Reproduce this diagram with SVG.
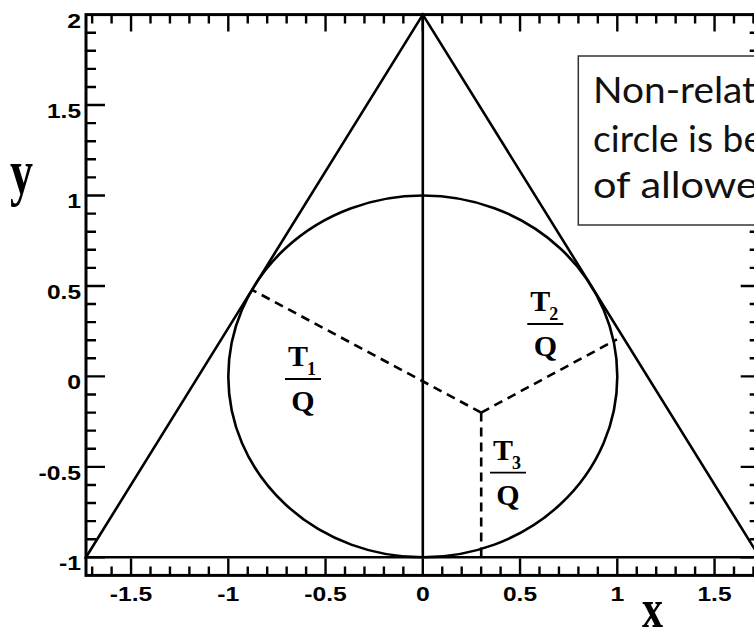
<svg xmlns="http://www.w3.org/2000/svg" width="754" height="630" viewBox="0 0 754 630">
<style>
.ln{fill:none;stroke:#000;stroke-width:2.6}
.frame{fill:none;stroke:#000;stroke-width:3}
.tk{fill:none;stroke:#000;stroke-width:2.4}
.dash{fill:none;stroke:#000;stroke-width:2.6;stroke-dasharray:9 6}
.num{font-family:"Liberation Sans",Arial,sans-serif;font-weight:bold;font-size:21px;fill:#000}
.ttl{font-family:"Liberation Serif","Times New Roman",serif;font-weight:bold;fill:#000}
.fr{font-family:"Liberation Serif","Times New Roman",serif;font-weight:bold;font-size:30px;fill:#000}
.sub{font-size:18px}
.bar{stroke:#000;stroke-width:1.8}
.note{font-family:Lato,"Open Sans",sans-serif;font-size:37px;fill:#111}
</style>
<rect width="754" height="630" fill="#fff"/>
<g id="frame">
<rect class="frame" x="86" y="14.6" width="673.7" height="560.8"/>
</g>
<g id="ticks" class="tk">
<path d="M86 32.69h10M86 50.78h10M86 68.87h10M86 86.96h10M86 105.05h19M86 123.14h10M86 141.23h10M86 159.32h10M86 177.41h10M86 195.5h19M86 213.59h10M86 231.68h10M86 249.77h10M86 267.86h10M86 285.95h19M86 304.04h10M86 322.13h10M86 340.22h10M86 358.31h10M86 376.4h19M86 394.49h10M86 412.58h10M86 430.67h10M86 448.76h10M86 466.85h19M86 484.94h10M86 503.03h10M86 521.12h10M86 539.21h10M86 557.3h19"/>
<path d="M759.7 32.69h-10M759.7 50.78h-10M759.7 68.87h-10M759.7 86.96h-10M759.7 105.05h-19M759.7 123.14h-10M759.7 141.23h-10M759.7 159.32h-10M759.7 177.41h-10M759.7 195.5h-19M759.7 213.59h-10M759.7 231.68h-10M759.7 249.77h-10M759.7 267.86h-10M759.7 285.95h-19M759.7 304.04h-10M759.7 322.13h-10M759.7 340.22h-10M759.7 358.31h-10M759.7 376.4h-19M759.7 394.49h-10M759.7 412.58h-10M759.7 430.67h-10M759.7 448.76h-10M759.7 466.85h-19M759.7 484.94h-10M759.7 503.03h-10M759.7 521.12h-10M759.7 539.21h-10M759.7 557.3h-19"/>
<path d="M92.15 14.6v9M111.6 14.6v9M131.05 14.6v17M150.5 14.6v9M169.95 14.6v9M189.4 14.6v9M208.85 14.6v9M228.3 14.6v17M247.75 14.6v9M267.2 14.6v9M286.65 14.6v9M306.1 14.6v9M325.55 14.6v17M345 14.6v9M364.45 14.6v9M383.9 14.6v9M403.35 14.6v9M422.8 14.6v17M442.25 14.6v9M461.7 14.6v9M481.15 14.6v9M500.6 14.6v9M520.05 14.6v17M539.5 14.6v9M558.95 14.6v9M578.4 14.6v9M597.85 14.6v9M617.3 14.6v17M636.75 14.6v9M656.2 14.6v9M675.65 14.6v9M695.1 14.6v9M714.55 14.6v17M734 14.6v9M753.45 14.6v9"/>
<path d="M92.15 575.4v-9M111.6 575.4v-9M131.05 575.4v-17M150.5 575.4v-9M169.95 575.4v-9M189.4 575.4v-9M208.85 575.4v-9M228.3 575.4v-17M247.75 575.4v-9M267.2 575.4v-9M286.65 575.4v-9M306.1 575.4v-9M325.55 575.4v-17M345 575.4v-9M364.45 575.4v-9M383.9 575.4v-9M403.35 575.4v-9M422.8 575.4v-17M442.25 575.4v-9M461.7 575.4v-9M481.15 575.4v-9M500.6 575.4v-9M520.05 575.4v-17M539.5 575.4v-9M558.95 575.4v-9M578.4 575.4v-9M597.85 575.4v-9M617.3 575.4v-17M636.75 575.4v-9M656.2 575.4v-9M675.65 575.4v-9M695.1 575.4v-9M714.55 575.4v-17M734 575.4v-9M753.45 575.4v-9"/>
</g>
<g id="y-labels" class="num" text-anchor="end">
<text x="81" y="27.5" textLength="13.8" lengthAdjust="spacingAndGlyphs">2</text>
<text x="81" y="118" textLength="34" lengthAdjust="spacingAndGlyphs">1.5</text>
<text x="81" y="208" textLength="13.8" lengthAdjust="spacingAndGlyphs">1</text>
<text x="81" y="298.7" textLength="34" lengthAdjust="spacingAndGlyphs">0.5</text>
<text x="81" y="389" textLength="13.8" lengthAdjust="spacingAndGlyphs">0</text>
<text x="81" y="479.5" textLength="42.5" lengthAdjust="spacingAndGlyphs">-0.5</text>
<text x="81" y="570.3" textLength="22" lengthAdjust="spacingAndGlyphs">-1</text>
</g>
<g id="x-labels" class="num" text-anchor="middle">
<text x="131" y="600.8" textLength="42.5" lengthAdjust="spacingAndGlyphs">-1.5</text>
<text x="228.3" y="600.8" textLength="22" lengthAdjust="spacingAndGlyphs">-1</text>
<text x="325.5" y="600.8" textLength="42.5" lengthAdjust="spacingAndGlyphs">-0.5</text>
<text x="422.8" y="600.8" textLength="13.8" lengthAdjust="spacingAndGlyphs">0</text>
<text x="520" y="600.8" textLength="34" lengthAdjust="spacingAndGlyphs">0.5</text>
<text x="617.3" y="600.8" textLength="13.8" lengthAdjust="spacingAndGlyphs">1</text>
<text x="714.5" y="600.8" textLength="34" lengthAdjust="spacingAndGlyphs">1.5</text>
</g>
<g id="axis-titles" class="ttl">
<text x="10" y="193" font-size="64" textLength="23" lengthAdjust="spacingAndGlyphs">y</text>
<text x="642" y="626.5" font-size="55" textLength="21" lengthAdjust="spacingAndGlyphs">x</text>
</g>
<g id="shapes">
<polygon id="triangle" class="ln" points="422.8,14.6 86,557.3 759.7,557.3"/>
<line id="axis-x0" class="ln" x1="422.8" y1="14.6" x2="422.8" y2="557.3"/>
<ellipse id="circle" class="ln" cx="422.8" cy="376.4" rx="194.5" ry="180.9"/>
</g>
<g id="connectors">
<path class="dash" d="M481.2 412.6L252 289.8"/>
<path class="dash" d="M481.2 412.6L617 339.3"/>
<path class="dash" d="M481.2 412.6V557.3"/>
</g>
<g id="frac-T1" class="fr" transform="translate(303,379)">
<text x="-15" y="-13">T</text><text class="sub" x="4" y="-4">1</text>
<line class="bar" x1="-18" y1="0" x2="18" y2="0"/>
<text x="0" y="32" text-anchor="middle">Q</text>
</g>
<g id="frac-T2" class="fr" transform="translate(545.3,324)">
<text x="-15" y="-13">T</text><text class="sub" x="4" y="-4">2</text>
<line class="bar" x1="-18" y1="0" x2="18" y2="0"/>
<text x="0" y="32" text-anchor="middle">Q</text>
</g>
<g id="frac-T3" class="fr" transform="translate(508,472.7)">
<text x="-15" y="-13">T</text><text class="sub" x="4" y="-4">3</text>
<line class="bar" x1="-18" y1="0" x2="18" y2="0"/>
<text x="0" y="32" text-anchor="middle">Q</text>
</g>
<g id="note">
<rect x="578.3" y="56" width="200" height="169" fill="#fff" stroke="#333" stroke-width="1.5"/>
<text class="note" x="593" y="102.7" textLength="163" lengthAdjust="spacingAndGlyphs">Non-relat</text>
<text class="note" x="593" y="151.7" textLength="170" lengthAdjust="spacingAndGlyphs">circle is be</text>
<text class="note" x="593" y="198" textLength="165" lengthAdjust="spacingAndGlyphs">of allowe</text>
</g>
</svg>
